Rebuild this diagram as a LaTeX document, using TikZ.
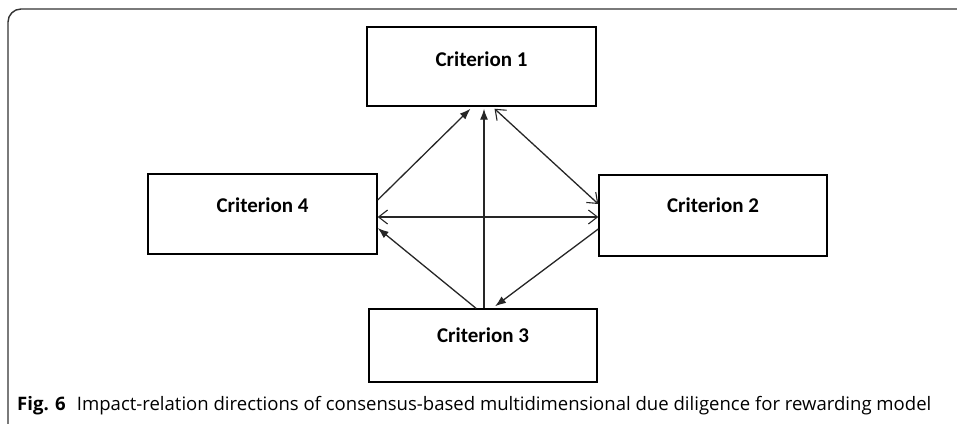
\documentclass[tikz,border=0pt]{standalone}
\usepackage{fontspec}
\setmainfont{Carlito}
\newfontfamily\capfont{Open Sans}
\usetikzlibrary{arrows.meta}
\tikzset{
  crit/.style={draw=black, line width=1.4pt, rectangle, font=\fontsize{21}{24}\selectfont\bfseries, inner sep=0pt, text height=14pt},
  conn/.style={line width=1.3pt, draw=black!85},
  solidtip/.style={-{Latex[length=11pt,width=8pt]}},
  opentip/.style={{Straight Barb[length=9pt,width=14pt,line width=1.1pt]}-{Straight Barb[length=9pt,width=14pt,line width=1.1pt]}}
}
\begin{document}
\begin{tikzpicture}[x=1pt,y=-1pt]
\useasboundingbox (0,0) rectangle (957,423);
% frame
\draw[line width=1.4pt, draw=black!80, rounded corners=13pt] (8,435) -- (8,9) -- (975,9);
% boxes
\node[crit, minimum width=229pt, minimum height=79pt, text depth=15pt] (c1) at (481.5,66.5) {Criterion 1};
\node[crit, minimum width=228pt, minimum height=81pt, text depth=21pt] (c2) at (713,215.5) {Criterion 2};
\node[crit, minimum width=229pt, minimum height=80pt, text depth=18pt] (c4) at (262.5,214) {Criterion 4};
\node[crit, minimum width=228pt, minimum height=73pt, text depth=21pt] (c3) at (483,345.5) {Criterion 3};
% connectors
\draw[conn, solidtip] ([yshift=14pt]c4.east) -- ([xshift=-11pt,yshift=-2pt]c1.south);
\draw[conn, solidtip] ([xshift=1pt]c3.north) -- ([xshift=2.5pt,yshift=-2pt]c1.south);
\draw[conn, opentip] ([xshift=13pt,yshift=-2pt]c1.south) -- ([yshift=11.5pt]c2.west);
\draw[conn, opentip] ([yshift=-3pt]c4.east) -- ([yshift=-1.5pt]c2.west);
\draw[conn, solidtip] ([xshift=-7pt]c3.north) -- ([yshift=-14pt]c4.east);
\draw[conn, solidtip] ([yshift=-13.5pt]c2.west) -- ([xshift=12pt,yshift=2pt]c3.north);
% caption
\node[anchor=base west, inner sep=0pt] (cap) at (17,410) {\resizebox{914pt}{!}{\capfont\textbf{Fig. 6}\hspace{0.6em}Impact-relation directions of consensus-based multidimensional due diligence for rewarding model}};
\end{tikzpicture}
\end{document}
